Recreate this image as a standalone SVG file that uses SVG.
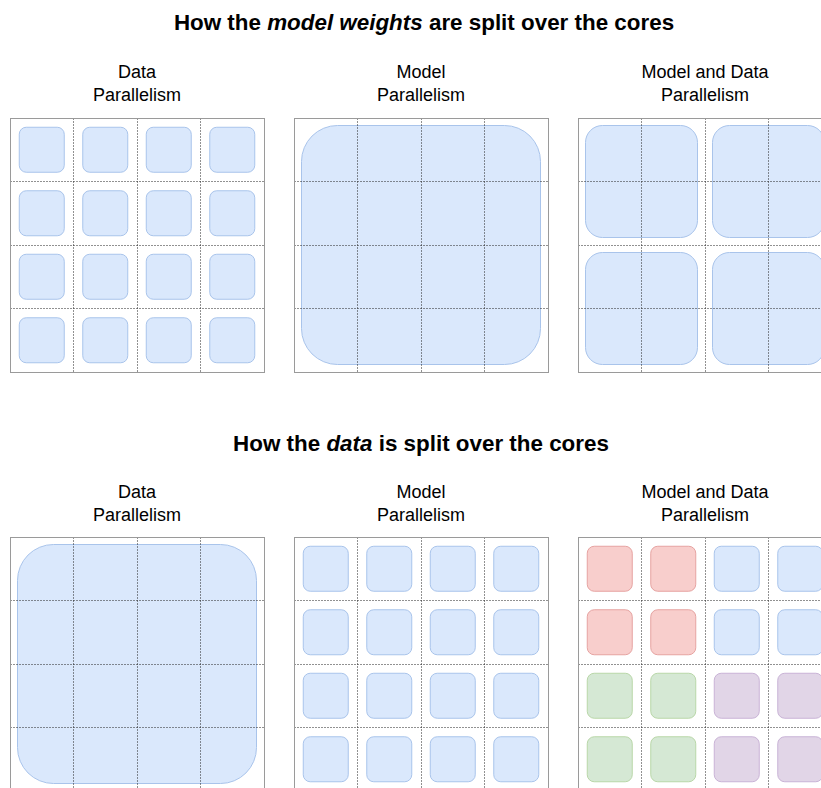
<svg xmlns="http://www.w3.org/2000/svg" xmlns:xlink="http://www.w3.org/1999/xlink" width="821" height="788" viewBox="0 0 821 788">
<style>
.title{font-family:"Liberation Sans",Arial,Helvetica,sans-serif;font-size:22.4px;font-weight:bold;fill:#000;text-anchor:middle}
.sub{font-family:"Liberation Sans",Arial,Helvetica,sans-serif;font-size:18px;fill:#000;text-anchor:middle}
.frame{fill:none;stroke:#9a9a9a;stroke-width:1}
.dot{stroke:#222;stroke-width:1;stroke-dasharray:1 2;fill:none}
.b{fill:#dae8fc;stroke:#a9c4eb;stroke-width:1}
.r{fill:#f8cecc;stroke:#e6a3a1;stroke-width:1}
.g{fill:#d5e8d4;stroke:#b9d7a8;stroke-width:1}
.p{fill:#e1d5e7;stroke:#c9b3d6;stroke-width:1}
</style>
<defs>
<rect id="sq" x="0" y="0" width="45" height="45" rx="7" ry="7"/>
<rect id="blk" x="0" y="0" width="112" height="112" rx="17" ry="17"/>
<rect id="big" x="0" y="0" width="239" height="239" rx="36" ry="36"/>
<g id="grid">
<line class="dot" x1="63.5" y1="0.5" x2="63.5" y2="254"/>
<line class="dot" x1="127.5" y1="0.5" x2="127.5" y2="254"/>
<line class="dot" x1="190.5" y1="0.5" x2="190.5" y2="254"/>
<line class="dot" x1="0.5" y1="63.5" x2="254" y2="63.5"/>
<line class="dot" x1="0.5" y1="127.5" x2="254" y2="127.5"/>
<line class="dot" x1="0.5" y1="190.5" x2="254" y2="190.5"/>
<rect class="frame" x="0.5" y="0.5" width="254" height="254"/>
</g>
<g id="sq16">
<use href="#sq" x="9.25" y="9.25"/><use href="#sq" x="72.75" y="9.25"/><use href="#sq" x="136.25" y="9.25"/><use href="#sq" x="199.75" y="9.25"/>
<use href="#sq" x="9.25" y="72.75"/><use href="#sq" x="72.75" y="72.75"/><use href="#sq" x="136.25" y="72.75"/><use href="#sq" x="199.75" y="72.75"/>
<use href="#sq" x="9.25" y="136.25"/><use href="#sq" x="72.75" y="136.25"/><use href="#sq" x="136.25" y="136.25"/><use href="#sq" x="199.75" y="136.25"/>
<use href="#sq" x="9.25" y="199.75"/><use href="#sq" x="72.75" y="199.75"/><use href="#sq" x="136.25" y="199.75"/><use href="#sq" x="199.75" y="199.75"/>
</g>
</defs>

<g id="title-weights">
<text class="title" x="424" y="30">How the <tspan font-style="italic">model weights</tspan> are split over the cores</text>
</g>
<g id="title-data">
<text class="title" x="421" y="451">How the <tspan font-style="italic">data</tspan> is split over the cores</text>
</g>

<g id="label-top-dp"><text class="sub" x="137" y="78">Data</text><text class="sub" x="137" y="101">Parallelism</text></g>
<g id="label-top-mp"><text class="sub" x="421" y="78">Model</text><text class="sub" x="421" y="101">Parallelism</text></g>
<g id="label-top-mdp"><text class="sub" x="705" y="78">Model and Data</text><text class="sub" x="705" y="101">Parallelism</text></g>
<g id="label-bot-dp"><text class="sub" x="137" y="498">Data</text><text class="sub" x="137" y="521">Parallelism</text></g>
<g id="label-bot-mp"><text class="sub" x="421" y="498">Model</text><text class="sub" x="421" y="521">Parallelism</text></g>
<g id="label-bot-mdp"><text class="sub" x="705" y="498">Model and Data</text><text class="sub" x="705" y="521">Parallelism</text></g>

<g id="panel-top-dp" transform="translate(10,118)">
<use href="#sq16" class="b"/>
<use href="#grid"/>
</g>
<g id="panel-top-mp" transform="translate(294,118)">
<use href="#big" class="b" x="7.5" y="7.5"/>
<use href="#grid"/>
</g>
<g id="panel-top-mdp" transform="translate(578,118)">
<use href="#blk" class="b" x="7.5" y="7.5"/>
<use href="#blk" class="b" x="134.5" y="7.5"/>
<use href="#blk" class="b" x="7.5" y="134.5"/>
<use href="#blk" class="b" x="134.5" y="134.5"/>
<use href="#grid"/>
</g>

<g id="panel-bot-dp" transform="translate(10,537)">
<use href="#big" class="b" x="7.5" y="7.5"/>
<use href="#grid"/>
</g>
<g id="panel-bot-mp" transform="translate(294,537)">
<use href="#sq16" class="b"/>
<use href="#grid"/>
</g>
<g id="panel-bot-mdp" transform="translate(578,537)">
<use href="#sq" class="r" x="9.25" y="9.25"/><use href="#sq" class="r" x="72.75" y="9.25"/><use href="#sq" class="b" x="136.25" y="9.25"/><use href="#sq" class="b" x="199.75" y="9.25"/>
<use href="#sq" class="r" x="9.25" y="72.75"/><use href="#sq" class="r" x="72.75" y="72.75"/><use href="#sq" class="b" x="136.25" y="72.75"/><use href="#sq" class="b" x="199.75" y="72.75"/>
<use href="#sq" class="g" x="9.25" y="136.25"/><use href="#sq" class="g" x="72.75" y="136.25"/><use href="#sq" class="p" x="136.25" y="136.25"/><use href="#sq" class="p" x="199.75" y="136.25"/>
<use href="#sq" class="g" x="9.25" y="199.75"/><use href="#sq" class="g" x="72.75" y="199.75"/><use href="#sq" class="p" x="136.25" y="199.75"/><use href="#sq" class="p" x="199.75" y="199.75"/>
<use href="#grid"/>
</g>
<g id="connectors"/>
</svg>
